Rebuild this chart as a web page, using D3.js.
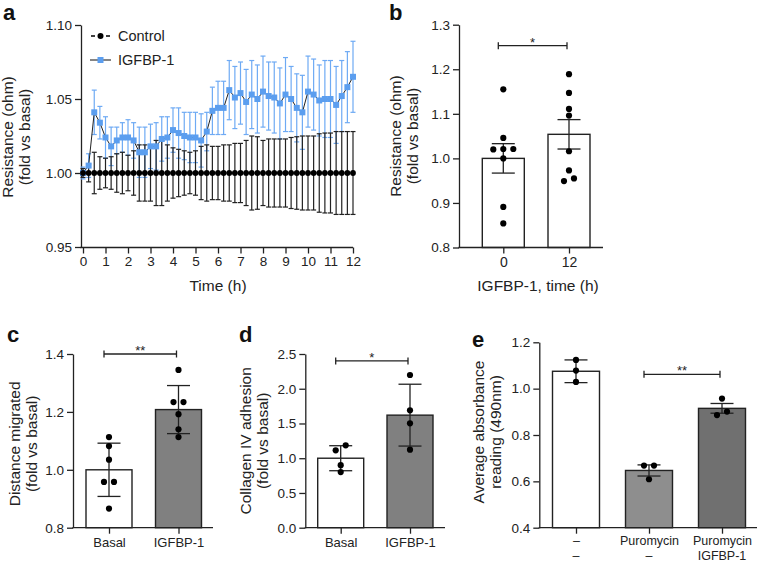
<!DOCTYPE html>
<html>
<head>
<meta charset="utf-8">
<script src="https://cdn.jsdelivr.net/npm/d3@7"></script>
<style>
  body { margin: 0; background: #fff; }
  svg { display: block; }
</style>
</head>
<body>
<svg id="fig" width="760" height="563"></svg>
<script>
// ---- panel a: resistance time course ----
const timeH = [0, 0.25, 0.5, 0.75, 1, 1.25, 1.5, 1.75, 2, 2.25, 2.5, 2.75, 3, 3.25, 3.5, 3.75,
  4, 4.25, 4.5, 4.75, 5, 5.25, 5.5, 5.75, 6, 6.25, 6.5, 6.75, 7, 7.25, 7.5, 7.75,
  8, 8.25, 8.5, 8.75, 9, 9.25, 9.5, 9.75, 10, 10.25, 10.5, 10.75, 11, 11.25, 11.5, 11.75, 12];
const igfbpMean = [1.000, 1.005, 1.041, 1.034, 1.024, 1.018, 1.022, 1.024, 1.024, 1.022,
  1.014, 1.014, 1.018, 1.018, 1.023, 1.024, 1.029, 1.027, 1.025, 1.024,
  1.024, 1.022, 1.028, 1.042, 1.044, 1.044, 1.056, 1.051, 1.054, 1.048,
  1.053, 1.050, 1.055, 1.052, 1.051, 1.047, 1.053, 1.050, 1.044, 1.041,
  1.055, 1.053, 1.049, 1.050, 1.050, 1.046, 1.052, 1.058, 1.065];
const igfbpErr = [0.004, 0.008, 0.015, 0.011, 0.014, 0.013, 0.009, 0.010, 0.012, 0.012,
  0.017, 0.017, 0.015, 0.016, 0.015, 0.014, 0.015, 0.017, 0.016, 0.017,
  0.017, 0.018, 0.013, 0.016, 0.018, 0.018, 0.020, 0.021, 0.021, 0.022,
  0.023, 0.023, 0.024, 0.023, 0.024, 0.024, 0.025, 0.022, 0.023, 0.025,
  0.024, 0.024, 0.024, 0.026, 0.026, 0.026, 0.024, 0.024, 0.024];
const controlMean = [1, 1, 1, 1, 1, 1, 1, 1, 1, 1, 1, 1, 1, 1, 1, 1, 1, 1, 1, 1, 1, 1, 1, 1, 1,
  1, 1, 1, 1, 1, 1, 1, 1, 1, 1, 1, 1, 1, 1, 1, 1, 1, 1, 1, 1, 1, 1, 1, 1];
const controlErr = [0.003, 0.006, 0.014, 0.011, 0.010, 0.011, 0.013, 0.014, 0.012, 0.015,
  0.019, 0.019, 0.019, 0.022, 0.022, 0.019, 0.017, 0.016, 0.015, 0.014,
  0.015, 0.018, 0.019, 0.018, 0.018, 0.019, 0.019, 0.020, 0.020, 0.022,
  0.025, 0.0245, 0.022, 0.023, 0.023, 0.023, 0.023, 0.024, 0.0245, 0.025,
  0.025, 0.025, 0.0265, 0.027, 0.027, 0.028, 0.028, 0.028, 0.028];
const aTicksX = [0, 1, 2, 3, 4, 5, 6, 7, 8, 9, 10, 11, 12];
const aTicksY = [0.95, 1.00, 1.05, 1.10];

// ---- panel b ----
const bCats = ['0', '12'];
const bMean = [1.000, 1.054];
const bErr = [0.033, 0.033];
const bDots = [
  [1.155, 1.046, 1.021, 1.020, 1.021, 1.000, 0.891, 0.854],
  [1.189, 1.147, 1.111, 1.096, 1.016, 0.973, 0.955, 0.949]
];
const bTicks = [0.8, 0.9, 1.0, 1.1, 1.2, 1.3];

// ---- panel c ----
const cCats = ['Basal', 'IGFBP-1'];
const cMean = [1.000, 1.208];
const cErr = [0.092, 0.083];
const cDots = [
  [1.113, 1.082, 1.035, 0.958, 0.958, 0.866],
  [1.345, 1.234, 1.234, 1.192, 1.140, 1.113]
];
const cTicks = [0.8, 1.0, 1.2, 1.4];

// ---- panel d ----
const dCats = ['Basal', 'IGFBP-1'];
const dMean = [1.000, 1.620];
const dErr = [0.180, 0.445];
const dDots = [
  [1.185, 1.113, 0.900, 0.800],
  [2.198, 1.689, 1.502, 1.123]
];
const dTicks = [0.0, 0.5, 1.0, 1.5, 2.0, 2.5];

// ---- panel e ----
const eRow1 = ['\u2013', 'Puromycin', 'Puromycin'];
const eRow2 = ['\u2013', '\u2013', 'IGFBP-1'];
const eMean = [1.075, 0.647, 0.915];
const eErr = [0.049, 0.024, 0.021];
const eDots = [
  [1.124, 1.078, 1.029],
  [0.668, 0.668, 0.609],
  [0.957, 0.901, 0.886]
];
const eTicks = [0.4, 0.6, 0.8, 1.0, 1.2];

const FONT = '"Liberation Sans", Arial, Helvetica, sans-serif';
const INK = '#222';
const BLUE = '#5b9eef';
const BLUE_BAR = '#6eaaf4';

const svg = d3.select('#fig');

function styleAxis(g) {
  g.attr('font-family', FONT).attr('font-size', 13.5);
  g.selectAll('path.domain').attr('stroke', INK).attr('stroke-width', 1.3);
  g.selectAll('.tick line').attr('stroke', INK).attr('stroke-width', 1.3);
  g.selectAll('.tick text').attr('fill', INK);
}

function panelLabel(t, x, y) {
  svg.append('text').attr('x', x).attr('y', y).text(t)
    .attr('font-family', FONT).attr('font-weight', 'bold').attr('font-size', 22).attr('fill', '#111');
}

function yTitle(lines, x, y, gap) {
  lines.forEach((l, i) => {
    svg.append('text')
      .attr('transform', `translate(${x + i * gap},${y}) rotate(-90)`)
      .attr('text-anchor', 'middle')
      .attr('font-family', FONT).attr('font-size', 15.5).attr('fill', INK)
      .text(l);
  });
}

function errBar(g, x, y0, y1, yc, cap, color, w) {
  g.append('line').attr('x1', x).attr('x2', x).attr('y1', y0).attr('y2', y1)
    .attr('stroke', color).attr('stroke-width', w);
  [y0, y1].forEach(yy => g.append('line')
    .attr('x1', x - cap / 2).attr('x2', x + cap / 2).attr('y1', yy).attr('y2', yy)
    .attr('stroke', color).attr('stroke-width', w));
}

// ================= panel a =================
{
  const x = d3.scaleLinear([0, 12], [83, 353]);
  const y = d3.scaleLinear([0.95, 1.10], [247, 25]);
  const g = svg.append('g');

  g.append('g').attr('transform', 'translate(81,0)')
    .call(d3.axisLeft(y).tickValues(aTicksY).tickFormat(d3.format('.2f'))
      .tickSize(6).tickPadding(3).tickSizeOuter(0))
    .call(styleAxis);
  g.append('line').attr('x1', 80.4).attr('x2', 353).attr('y1', 247.5).attr('y2', 247.5)
    .attr('stroke', INK).attr('stroke-width', 1.3);
  g.append('g').attr('transform', 'translate(0,247.5)')
    .call(d3.axisBottom(x).tickValues(aTicksX).tickFormat(d3.format('d'))
      .tickSize(6).tickPadding(3).tickSizeOuter(0))
    .call(g2 => g2.select('.domain').remove())
    .call(styleAxis);

  const eb = g.append('g');
  timeH.forEach((t, i) => {
    errBar(eb, x(t), y(igfbpMean[i] - igfbpErr[i]), y(igfbpMean[i] + igfbpErr[i]), 0, 5, BLUE_BAR, 1.2);
  });
  timeH.forEach((t, i) => {
    errBar(eb, x(t), y(controlMean[i] - controlErr[i]), y(controlMean[i] + controlErr[i]), 0, 5, INK, 1.2);
  });

  const line = d3.line().x((d, i) => x(timeH[i])).y(d => y(d));
  g.append('path').datum(igfbpMean).attr('d', line)
    .attr('fill', 'none').attr('stroke', INK).attr('stroke-width', 1);
  g.append('g').selectAll('rect').data(igfbpMean).join('rect')
    .attr('x', (d, i) => x(timeH[i]) - 3).attr('y', d => y(d) - 3)
    .attr('width', 6).attr('height', 6).attr('fill', BLUE);

  g.append('path').datum(controlMean).attr('d', line)
    .attr('fill', 'none').attr('stroke', '#000').attr('stroke-width', 1.2);
  g.append('g').selectAll('circle').data(controlMean).join('circle')
    .attr('cx', (d, i) => x(timeH[i])).attr('cy', d => y(d)).attr('r', 2.9).attr('fill', '#000');

  // legend
  const lg = g.append('g').attr('font-family', FONT).attr('font-size', 14.5).attr('fill', INK);
  lg.append('line').attr('x1', 91).attr('x2', 110).attr('y1', 36).attr('y2', 36)
    .attr('stroke', '#000').attr('stroke-width', 1.5).attr('stroke-dasharray', '4,3.5');
  lg.append('circle').attr('cx', 100.5).attr('cy', 36).attr('r', 3).attr('fill', '#000');
  lg.append('text').attr('x', 118).attr('y', 41).text('Control');
  lg.append('line').attr('x1', 90).attr('x2', 111).attr('y1', 60).attr('y2', 60)
    .attr('stroke', '#333').attr('stroke-width', 1.2);
  lg.append('rect').attr('x', 97.5).attr('y', 57).attr('width', 6).attr('height', 6).attr('fill', BLUE);
  lg.append('text').attr('x', 118).attr('y', 65).text('IGFBP-1');

  svg.append('text').attr('x', 218).attr('y', 291).attr('text-anchor', 'middle')
    .attr('font-family', FONT).attr('font-size', 15.5).attr('fill', INK).text('Time (h)');
  yTitle(['Resistance (ohm)', '(fold vs basal)'], 13, 137, 17);
  panelLabel('a', 3, 20);
}

// ================= bar panels =================
function swarm(vals, y, cx) {
  // spread dots whose pixel heights collide, lowest value to the left
  const pts = vals.map(v => ({ v, py: y(v) })).sort((a, b) => a.v - b.v);
  const groups = [];
  pts.forEach(p => {
    const last = groups[groups.length - 1];
    if (last && Math.abs(last[last.length - 1].py - p.py) < 6) last.push(p);
    else groups.push([p]);
  });
  const out = [];
  groups.forEach(gr => gr.forEach((p, i) => out.push({ x: cx + (i - (gr.length - 1) / 2) * 10, y: p.py })));
  return out;
}

function barPanel(o) {
  const g = svg.append('g');
  const y = d3.scaleLinear(o.yDomain, [o.yBot, o.yTop]);
  const x = d3.scalePoint(d3.range(o.means.length), [o.c0, o.c1]);

  // bars
  o.means.forEach((m, i) => {
    g.append('rect').attr('x', x(i) - o.barW / 2).attr('y', y(m))
      .attr('width', o.barW).attr('height', o.yBot - y(m))
      .attr('fill', o.fills[i]).attr('stroke', INK).attr('stroke-width', 1.4);
  });
  // error bars
  o.means.forEach((m, i) => {
    errBar(g, x(i), y(m - o.errs[i]), y(m + o.errs[i]), 0, 23, INK, 1.3);
  });
  // dots
  o.dots.forEach((vals, i) => {
    g.append('g').selectAll('circle').data(swarm(vals, y, x(i))).join('circle')
      .attr('cx', d => d.x).attr('cy', d => d.y).attr('r', 3.1).attr('fill', '#000');
  });

  // axes
  g.append('g').attr('transform', `translate(${o.ax},0)`)
    .call(d3.axisLeft(y).tickValues(o.ticks).tickFormat(d3.format('.1f'))
      .tickSize(6).tickPadding(3).tickSizeOuter(0))
    .call(styleAxis);
  g.append('line').attr('x1', o.ax - 0.6).attr('x2', o.axEnd).attr('y1', o.yBot).attr('y2', o.yBot)
    .attr('stroke', INK).attr('stroke-width', 1.3);
  const xa = g.append('g').attr('transform', `translate(0,${o.yBot})`)
    .call(d3.axisBottom(x).tickFormat(i => o.row1[i]).tickSize(6).tickPadding(o.row2 ? 2 : 4).tickSizeOuter(0))
    .call(g2 => g2.select('.domain').remove())
    .call(styleAxis);
  xa.attr('font-size', o.xFont);
  if (o.row2) {
    o.row2.forEach((t, i) => {
      g.append('text').attr('x', x(i)).attr('y', o.yBot + 32.5).attr('text-anchor', 'middle')
        .attr('font-family', FONT).attr('font-size', o.xFont).attr('fill', INK).text(t);
    });
  }

  // significance bracket
  const sy = y(o.sig.level);
  const sx0 = x(o.sig.from) - 5, sx1 = x(o.sig.to) - 2;
  g.append('line').attr('x1', sx0).attr('x2', sx1).attr('y1', sy).attr('y2', sy)
    .attr('stroke', INK).attr('stroke-width', 1.3);
  [sx0, sx1].forEach(xx => g.append('line').attr('x1', xx).attr('x2', xx)
    .attr('y1', sy - 3.5).attr('y2', sy + 3.5).attr('stroke', INK).attr('stroke-width', 1.3));
  g.append('text').attr('x', (sx0 + sx1) / 2).attr('y', sy + 1).attr('text-anchor', 'middle')
    .attr('font-family', FONT).attr('font-size', 13).attr('fill', INK).text(o.sig.stars);

  yTitle(o.title, o.titleX, (o.yTop + o.yBot) / 2 + (o.titleDy || 0), 17);
  panelLabel(o.label, o.labelX, o.labelY);
}

barPanel({
  label: 'b', labelX: 389, labelY: 20,
  means: bMean, errs: bErr, dots: bDots, row1: bCats, xFont: 14,
  fills: ['#fff', '#fff'],
  yDomain: [0.8, 1.3], yTop: 24.7, yBot: 247.5, ticks: bTicks,
  ax: 459, axEnd: 603, c0: 503.3, c1: 569, barW: 42,
  sig: { from: 0, to: 1, level: 1.253, stars: '*' },
  title: ['Resistance (ohm)', '(fold vs basal)'], titleX: 401, titleDy: 0
});
svg.append('text').attr('x', 538).attr('y', 291).attr('text-anchor', 'middle')
  .attr('font-family', FONT).attr('font-size', 15.5).attr('fill', INK).text('IGFBP-1, time (h)');

barPanel({
  label: 'c', labelX: 7, labelY: 342,
  means: cMean, errs: cErr, dots: cDots, row1: cCats, xFont: 13,
  fills: ['#fff', '#808080'],
  yDomain: [0.8, 1.4], yTop: 354, yBot: 527.7, ticks: cTicks,
  ax: 73, axEnd: 213, c0: 109, c1: 178.5, barW: 46,
  sig: { from: 0, to: 1, level: 1.4, stars: '**' },
  title: ['Distance migrated', '(fold vs basal)'], titleX: 20, titleDy: 3
});

barPanel({
  label: 'd', labelX: 239, labelY: 342,
  means: dMean, errs: dErr, dots: dDots, row1: dCats, xFont: 13,
  fills: ['#fff', '#808080'],
  yDomain: [0, 2.5], yTop: 354, yBot: 527.7, ticks: dTicks,
  ax: 305.3, axEnd: 445, c0: 340.7, c1: 410, barW: 46,
  sig: { from: 0, to: 1, level: 2.4, stars: '*' },
  title: ['Collagen IV adhesion', '(fold vs basal)'], titleX: 251, titleDy: 0
});

barPanel({
  label: 'e', labelX: 472, labelY: 347,
  means: eMean, errs: eErr, dots: eDots, row1: eRow1, row2: eRow2, xFont: 12.5,
  fills: ['#fff', '#8e8e8e', '#707070'],
  yDomain: [0.4, 1.2], yTop: 342.3, yBot: 527.7, ticks: eTicks,
  ax: 539.3, axEnd: 757, c0: 576, c1: 722, barW: 47,
  sig: { from: 1, to: 2, level: 1.062, stars: '**' },
  title: ['Average absorbance', 'reading (490nm)'], titleX: 484, titleDy: -3
});
</script>
</body>
</html>
